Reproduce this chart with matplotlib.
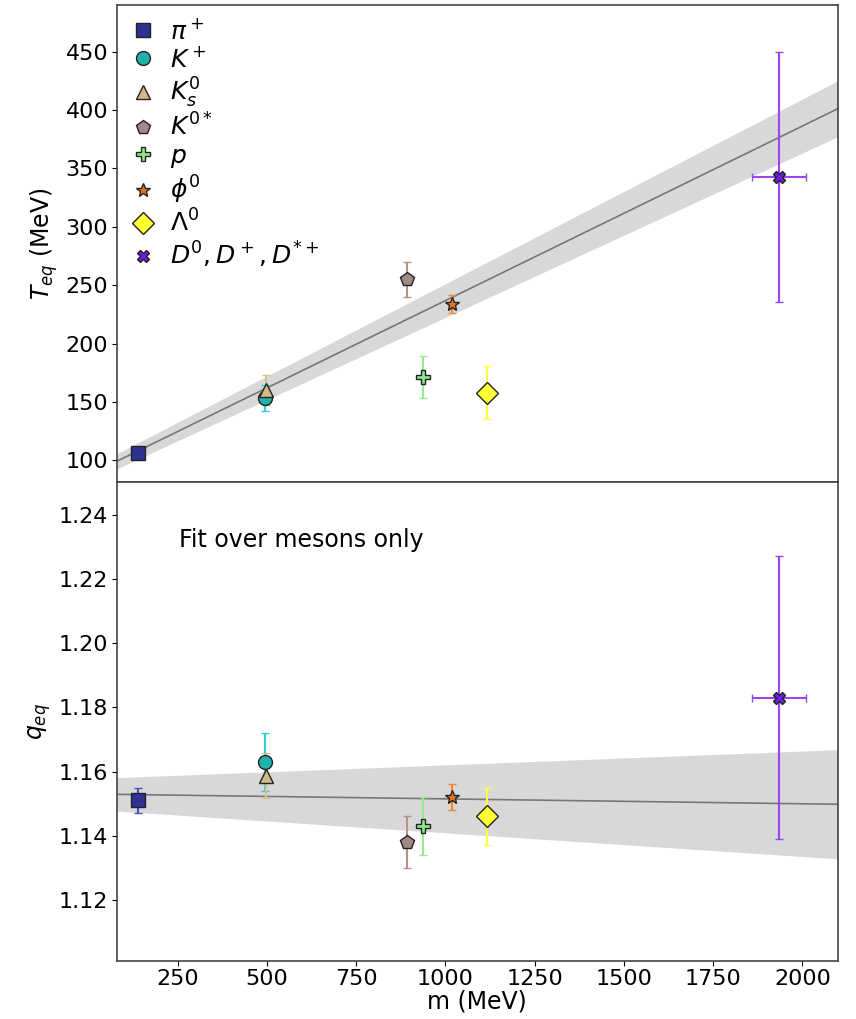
import numpy as np
import matplotlib
matplotlib.use("Agg")
import matplotlib.pyplot as plt

# values
labels = [r'$\pi^+$', r'$K^+$', r'$K^0_s$', r'$K^{0*}$', r'$p$', r'$\phi^0$',
          r'$\Lambda^0$', r'$D^0,D^+,D^{*+}$']
mass = [139.6, 493.7, 497.6, 891.7, 938.3, 1019.5, 1115.7, 1935.0]
mass_err = [0, 0, 0, 0, 0, 0, 0, 75]
T_eq = [106.5, 153.5, 160.0, 255.0, 171.5, 234.0, 158.0, 343.0]
T_err = [3, 11, 13, 15, 18, 8, 23, 107]
q_eq = [1.151, 1.163, 1.1587, 1.138, 1.143, 1.152, 1.146, 1.183]
q_err = [0.004, 0.009, 0.007, 0.008, 0.009, 0.004, 0.009, 0.044]

# linear fits over mesons (intercept, slope, intercept err, slope err)
T_fit = (87.3, 0.1495, 5.8, 0.00866)
q_fit = (1.15302, -1.53e-6, 0.00474, 5.84e-6)

markers = ['s', 'o', '^', 'p', 'P', '*', 'D', 'X']
sizes = [10, 10, 10, 10, 10, 10, 11, 9]
face = ['#2e3192', '#20b2aa', '#d2b98a', '#a08a86', '#8ee88a', '#e8731c', '#ffff33', '#6a1fd8']
ecol = ['#4a4fc0', '#30d0d0', '#d8c090', '#b89088', '#98ec90', '#f08a30', '#ffff40', '#9b45f0']

xlim = (79, 2100)

fig = plt.figure(figsize=(8.56, 10.19), dpi=100)
ax1 = fig.add_axes([0.1363, 0.5265, 0.8427, 0.4686])
ax2 = fig.add_axes([0.1363, 0.0569, 0.8427, 0.4696], sharex=ax1)

def draw(ax, y, yerr, fit):
    handles = []
    for i in range(len(mass)):
        c = ax.errorbar(mass[i], y[i], yerr=yerr[i],
                        xerr=mass_err[i] if mass_err[i] else None,
                        fmt=markers[i], ms=sizes[i], mfc=face[i], mec='#222222',
                        mew=1.0, ecolor=ecol[i], elinewidth=1.5, capsize=3,
                        capthick=1.2, zorder=3)
        handles.append(c[0])
    xs = np.linspace(xlim[0], xlim[1], 200)
    a, b, da, db = fit
    ax.plot(xs, a + b * xs, color='#777777', lw=1.2, zorder=2)
    ax.fill_between(xs, (a - da) + (b - db) * xs, (a + da) + (b + db) * xs,
                    color='gray', alpha=0.3, lw=0, zorder=1)
    for s in ax.spines.values():
        s.set_color('#444444')
        s.set_linewidth(1.2)
    ax.tick_params(labelsize=16, pad=2.5)
    return handles

h = draw(ax1, T_eq, T_err, T_fit)
draw(ax2, q_eq, q_err, q_fit)

ax1.set_xlim(*xlim)
ax1.set_ylim(81, 490)
ax1.set_yticks(np.arange(100, 451, 50))
ax1.set_ylabel(r'$T_{eq}$ (MeV)', fontsize=17)
ax1.tick_params(labelbottom=False)
ax1.legend(h, labels, loc='upper left', frameon=False, fontsize=18,
           labelspacing=0.14, handletextpad=0.6, borderaxespad=0.1,
           borderpad=0.45, handlelength=1.0)

ax2.set_ylim(1.101, 1.250)
ax2.set_yticks(np.arange(1.12, 1.241, 0.02))
ax2.set_yticklabels([f'{v:.2f}' for v in np.arange(1.12, 1.241, 0.02)])
ax2.set_xticks(np.arange(250, 2001, 250))
ax2.set_ylabel(r'$q_{eq}$', fontsize=17)
ax2.set_xlabel('m (MeV)', fontsize=17, labelpad=0)
ax2.text(0.087, 0.866, 'Fit over mesons only', transform=ax2.transAxes,
         fontsize=17, va='baseline')

fig.savefig('out.png', dpi=100)
